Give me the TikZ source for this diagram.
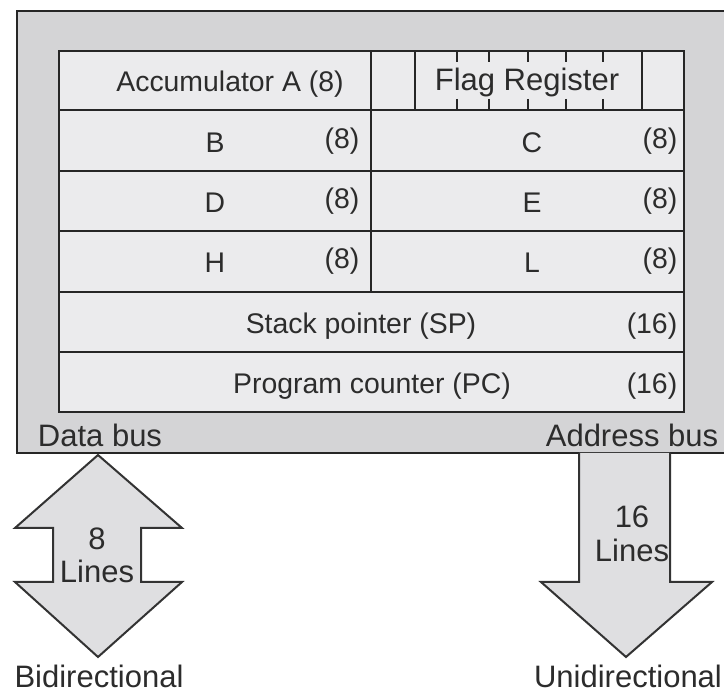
\documentclass[tikz,border=0pt]{standalone}
\usepackage{fontspec}
\setmainfont{Liberation Sans}
\definecolor{outerfill}{HTML}{D4D4D6}
\definecolor{cellfill}{HTML}{EBEBED}
\definecolor{arrowfill}{HTML}{DFDFE1}
\definecolor{inktext}{HTML}{2C2C2C}
\begin{document}
\begin{tikzpicture}[x=0.5pt,y=-0.5pt,line join=miter,
  frame/.style={draw=black!85,line width=1.4pt},
  grid/.style={draw=black!85,line width=1.4pt},
  busarrow/.style={draw=black!80,line width=1pt,fill=arrowfill},
  lbl/.style={anchor=base,inner sep=0pt,text=inktext,font=\fontsize{14.2}{17}\selectfont},
  biglbl/.style={lbl,font=\fontsize{15.5}{18}\selectfont}]
\useasboundingbox (0,0) rectangle (724,694);

% CPU outline and register block
\path[fill=outerfill,frame] (17,11) rectangle (727,453);
\path[fill=cellfill,grid] (59,51) rectangle (684,412);

% row separators
\foreach \y in {110,171,231,292,352}
  \draw[grid] (59,\y) -- (684,\y);

% column separators
\draw[grid] (371,51) -- (371,292);
\draw[grid] (415,51) -- (415,110);
\draw[grid] (642,51) -- (642,110);

% flag bit ticks
\foreach \x in {457,489,528,566,603} {
  \draw[grid,line width=1.1pt] (\x,51) -- (\x,62);
  \draw[grid,line width=1.1pt] (\x,99) -- (\x,110);
}

% register labels
\node[lbl] (acc) at (230,92) {Accumulator A (8)};
\node[biglbl] (flag) at (527,91) {Flag Register};

\node[lbl] (regB) at (215,153) {B};
\node[lbl] (szB) at (342,149) {(8)};
\node[lbl] (regC) at (532,153) {C};
\node[lbl] (szC) at (660,149) {(8)};

\node[lbl] (regD) at (215,213) {D};
\node[lbl] (szD) at (342,209) {(8)};
\node[lbl] (regE) at (532,213) {E};
\node[lbl] (szE) at (660,209) {(8)};

\node[lbl] (regH) at (215,273) {H};
\node[lbl] (szH) at (342,269) {(8)};
\node[lbl] (regL) at (532,273) {L};
\node[lbl] (szL) at (660,269) {(8)};

\node[lbl] (sp) at (361,334) {Stack pointer (SP)};
\node[lbl] (szSP) at (652,334) {(16)};
\node[lbl] (pc) at (372,394) {Program counter (PC)};
\node[lbl] (szPC) at (652,394) {(16)};

% bus names
\node[biglbl] (dbus) at (100,447) {Data bus};
\node[biglbl] (abus) at (632,447) {Address bus};

% bidirectional data bus arrow
\path[busarrow] (98,455) -- (182,528) -- (141,528) -- (141,582) -- (182,582)
  -- (98,657) -- (15,582) -- (53,582) -- (53,528) -- (15,528) -- cycle;
\node[biglbl] (dn) at (97,550) {8};
\node[biglbl] (dl) at (97,583) {Lines};
\node[biglbl] (dtype) at (99,688) {Bidirectional};

% unidirectional address bus arrow
\fill[arrowfill] (579,453) -- (579,582) -- (541,582) -- (626,657) -- (712,582)
  -- (670,582) -- (670,453) -- cycle;
\draw[busarrow,fill=none] (579,453) -- (579,582) -- (541,582) -- (626,657)
  -- (712,582) -- (670,582) -- (670,453);
\node[biglbl] (an) at (632,528) {16};
\node[biglbl] (al) at (632,562) {Lines};
\node[biglbl] (atype) at (628,688) {Unidirectional};
\end{tikzpicture}
\end{document}
